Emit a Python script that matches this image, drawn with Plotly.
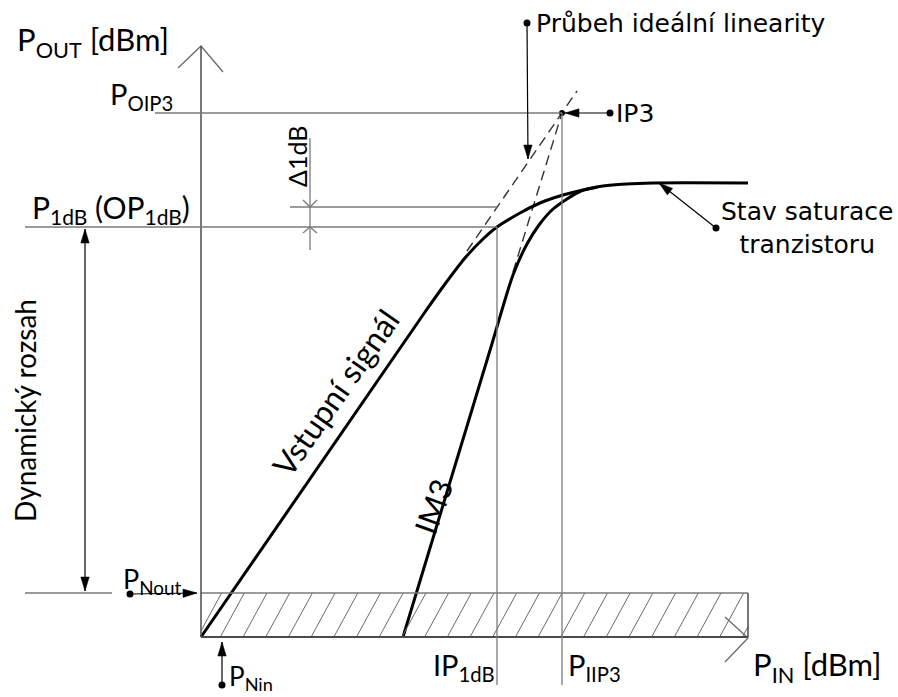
import math
import plotly.graph_objects as go

# Output levels (linear diagram units, origin at the axis corner)
P_NOUT = 44        # noise floor at the output
P_1DB = 410        # output 1 dB compression point
P_1DB_LIN = 430    # ideal (uncompressed) output at IP1dB
P_SAT = 454        # saturated output power
P_OIP3 = 524       # output third-order intercept
Y_MAX = 591        # top of the P_OUT axis

# Input levels
IP_1DB = 296       # input 1 dB compression point
P_IIP3 = 361       # input third-order intercept
X_MAX = 547        # end of the P_IN axis

# Fundamental (input signal) transfer curve
fund_x = [0, 224, 244, 264, 282, IP_1DB, 319, 339, 362, 382, 402, 425, 452, X_MAX]
fund_y = [0, 325, 353, 379, 398, P_1DB, 424, 434, 442, 447, 451, 453, P_SAT, P_SAT]

# Third-order intermodulation product curve
im3_x = [202, 290, 312, 326, 338, 351, 366, 380, 396]
im3_y = [0, 290, 362, 393, 412, 427, 438, 446, 450]

# Dashed extrapolations of the linear parts
ideal_x = [266, 376]
ideal_y = [386, 546]
im3_ext_x = [312, P_IIP3]
im3_ext_y = [365, P_OIP3]

# Hatched noise band
HATCH_STEP = 22.7
HATCH_RUN = 24
HATCH_START = 42

AXIS = "#4a4a4a"
REF = "#7a7a7a"
CAL = "Lato"
VER = "DejaVu Sans"

fig = go.Figure()


def seg(x0, y0, x1, y1, color=REF, width=1.3, dash="solid"):
    fig.add_shape(type="line", x0=x0, y0=y0, x1=x1, y1=y1, xref="x", yref="y",
                  line=dict(color=color, width=width, dash=dash), layer="above")


def polyline(xs, ys, color=REF, width=1.3, dash="solid"):
    fig.add_trace(go.Scatter(x=xs, y=ys, mode="lines", hoverinfo="skip",
                             line=dict(color=color, width=width, dash=dash)))


def head(tx, ty, fx, fy, length=14, half=4.2):
    """Filled arrow head with its tip at (tx, ty), pointing away from (fx, fy)."""
    d = math.hypot(tx - fx, ty - fy)
    ux, uy = (tx - fx) / d, (ty - fy) / d
    bx, by = tx - ux * length, ty - uy * length
    px, py = -uy * half, ux * half
    path = (f"M {tx} {ty} L {bx + px} {by + py} L {bx - px} {by - py} Z")
    fig.add_shape(type="path", path=path, xref="x", yref="y",
                  fillcolor="black", line=dict(color="black", width=0.5), layer="above")


def arrow(tx, ty, fx, fy, both=False):
    seg(fx, fy, tx, ty, color="black", width=1.2)
    head(tx, ty, fx, fy)
    if both:
        head(fx, fy, tx, ty)


# Hatching inside the noise band
x0 = HATCH_START
while x0 - HATCH_RUN > -HATCH_STEP * 2:
    x0 -= HATCH_STEP
k = x0
while k < X_MAX:
    xa, ya = k, 0.0
    xb, yb = k + HATCH_RUN, float(P_NOUT)
    slope = P_NOUT / HATCH_RUN
    if xa < 0:
        ya = -xa * slope
        xa = 0
    if xb > X_MAX:
        yb = (X_MAX - k) * slope
        xb = X_MAX
    if xb > xa and yb > ya:
        seg(xa, ya, xb, yb, color="#6a6a6a", width=1)
    k += HATCH_STEP

# Noise band outline
seg(0, P_NOUT, X_MAX, P_NOUT, color=REF, width=1.5)
seg(X_MAX, 0, X_MAX, P_NOUT, color=AXIS, width=1.5)

# Axes with open arrow heads
seg(0, 0, 0, Y_MAX, color=AXIS, width=1.5)
seg(0, 0, X_MAX, 0, color=AXIS, width=2)
polyline([-23, 0, 22], [569, Y_MAX, 565], color="#6a6a6a", width=1.3)
polyline([X_MAX - 23, X_MAX, X_MAX - 23], [20, -1, -25], color="#6a6a6a", width=1.3)

# Reference lines
seg(-46, P_OIP3, P_IIP3, P_OIP3)
seg(-176, P_1DB, IP_1DB, P_1DB)
seg(89, P_1DB_LIN, IP_1DB, P_1DB_LIN)
seg(-176, P_NOUT, -89, P_NOUT)
seg(IP_1DB, P_1DB, IP_1DB, -48)
seg(P_IIP3, P_OIP3, P_IIP3, -48)

# Delta 1 dB dimension
seg(109, 499, 109, 387)
polyline([102, 109, 116], [P_1DB_LIN + 7, P_1DB_LIN, P_1DB_LIN + 7])
polyline([102, 109, 116], [P_1DB - 6, P_1DB, P_1DB - 6])

# Dashed ideal-linearity and IM3 extrapolations
polyline(ideal_x, ideal_y, color="#333333", width=1.4, dash="10px,6px")
polyline(im3_ext_x, im3_ext_y, color="#333333", width=1.4, dash="10px,6px")

# Transfer curves
fig.add_trace(go.Scatter(x=fund_x, y=fund_y, mode="lines", hoverinfo="skip",
                         line=dict(color="black", width=3, shape="spline", smoothing=0.8)))
fig.add_trace(go.Scatter(x=im3_x, y=im3_y, mode="lines", hoverinfo="skip",
                         line=dict(color="black", width=3, shape="spline", smoothing=0.8)))

# Leader dots
dot_x = [326, 409, 515, -71, 21]
dot_y = [614, P_OIP3, 409, P_NOUT - 1, -48]
fig.add_trace(go.Scatter(x=dot_x, y=dot_y, mode="markers", hoverinfo="skip",
                         marker=dict(color="black", size=7)))
fig.add_trace(go.Scatter(x=[P_IIP3], y=[P_OIP3], mode="markers", hoverinfo="skip",
                         marker=dict(color="black", size=6)))

# Leader arrows
arrow(327, 478, 326, 614)
arrow(364, P_OIP3, 409, P_OIP3)
arrow(458, P_SAT, 515, 409)
arrow(-4, P_NOUT, -71, P_NOUT - 1)
arrow(21, -5, 21, -48)
arrow(-116, P_1DB - 2, -116, P_NOUT + 2, both=True)


def label(x, y, text, size=29, family=CAL, xanchor="left", angle=0, align="left"):
    fig.add_annotation(x=x, y=y, xref="x", yref="y", text=text, showarrow=False,
                       xanchor=xanchor, yanchor="middle", textangle=angle, align=align,
                       font=dict(family=family, size=size, color="black"))


label(-186, 596, "P<sub>OUT</sub> [dBm]", size=31)
label(-93, 542, "P<sub>OIP3</sub>")
label(-171, 428, "P<sub>1dB</sub> (OP<sub>1dB</sub>)", size=30)
label(-80, 57, "P<sub>Nout</sub>", size=27)
label(26, -40, "P<sub>Nin</sub>", size=26)
label(296, -29, "IP<sub>1dB</sub>", xanchor="right")
label(365, -29, "P<sub>IIP3</sub>")
label(550, -29, "P<sub>IN</sub> [dBm]", size=31)
label(-176, 226, "Dynamický rozsah", size=28, xanchor="center", angle=-90)
label(134, 245, "Vstupní signál", size=32, xanchor="center", angle=-55)
label(232, 130, "IM3", size=31, xanchor="center", angle=-70)
label(96, 480, "Δ1dB", size=25, xanchor="center", angle=-90)
label(333, 614, "Průbeh ideální linearity", size=25, family=VER)
label(413, 524, "IP3", size=25, family=VER)
label(606, 409, "Stav saturace<br>tranzistoru", size=25, family=VER,
      xanchor="center", align="center")

fig.update_layout(
    width=898, height=697,
    margin=dict(l=0, r=0, t=0, b=0),
    paper_bgcolor="white", plot_bgcolor="white",
    showlegend=False,
    xaxis=dict(range=[-201, 697], visible=False, fixedrange=True),
    yaxis=dict(range=[-60, 637], visible=False, fixedrange=True),
)

fig.write_html("out.html")
